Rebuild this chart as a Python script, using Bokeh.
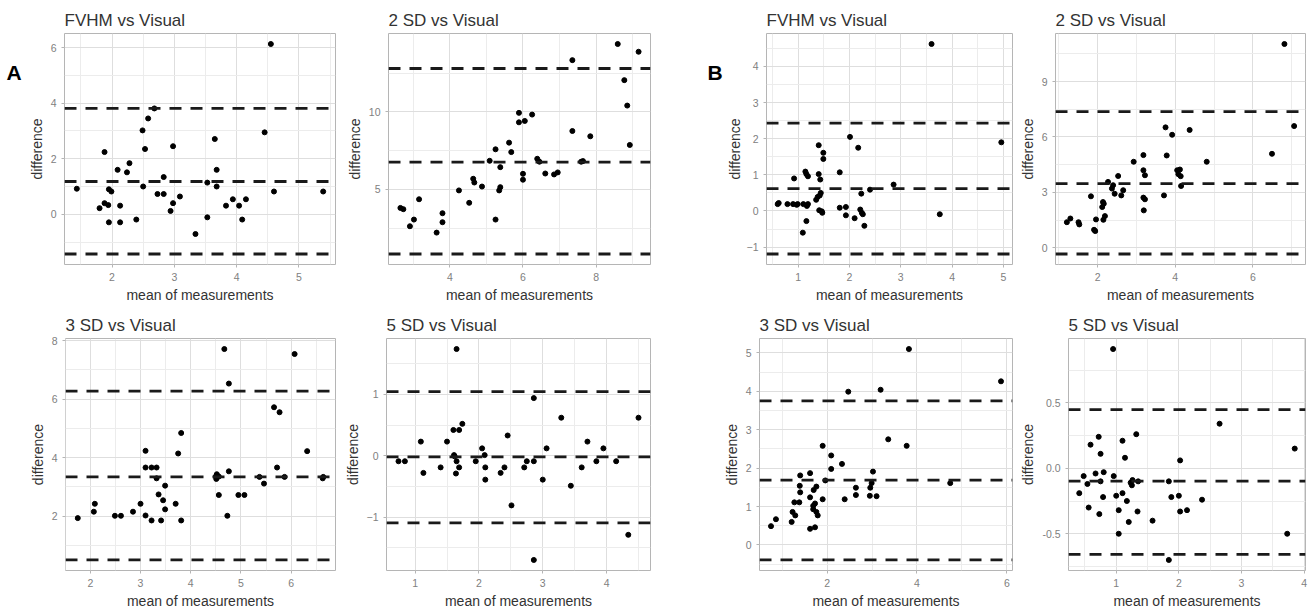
from bokeh.plotting import figure
from bokeh.layouts import column, row
from bokeh.models import Range1d, FixedTicker, Span, PrintfTickFormatter
from bokeh.core.properties import value
from bokeh.embed import file_html
from bokeh.resources import INLINE

FONT = "Liberation Sans"

# ---------------- data ----------------
titles = ["FVHM vs Visual", "2 SD vs Visual", "FVHM vs Visual", "2 SD vs Visual",
          "3 SD vs Visual", "5 SD vs Visual", "3 SD vs Visual", "5 SD vs Visual"]
x_label = "mean of measurements"
y_label = "difference"
group_labels = ["A", "B"]

A_FVHM_x = [1.435, 1.80, 1.88, 1.88, 1.94, 1.95, 1.95, 1.99, 2.09, 2.13, 2.13, 2.24, 2.28, 2.39, 2.49,
            2.50, 2.53, 2.58, 2.68, 2.73, 2.83, 2.83, 2.94, 2.98, 2.98, 3.09, 3.34, 3.53, 3.53, 3.65,
            3.68, 3.68, 3.83, 3.94, 4.04, 4.09, 4.15, 4.45, 4.55, 4.60, 5.39]
A_FVHM_y = [0.92, 0.22, 2.24, 0.40, 0.33, -0.29, 0.90, 0.82, 1.60, 0.31, -0.29, 1.51, 1.84, -0.19, 3.02,
            1.00, 2.35, 3.45, 3.81, 0.73, 1.34, 0.73, 0.12, 2.45, 0.40, 0.64, -0.71, 1.14, -0.11, 2.71,
            1.60, 1.00, 0.31, 0.54, 0.31, -0.19, 0.54, 2.95, 6.13, 0.82, 0.82]
A_FVHM_loa = [-1.43, 1.18, 3.81]

A_2SD_x = [2.65, 2.73, 2.91, 3.02, 3.16, 3.64, 3.80, 3.80, 4.25, 4.53, 4.64, 4.67, 4.88, 5.09, 5.25,
           5.25, 5.35, 5.38, 5.38, 5.62, 5.68, 5.89, 5.89, 6.00, 6.00, 6.05, 6.25, 6.39, 6.45, 6.61,
           6.85, 6.95, 7.35, 7.35, 7.59, 7.64, 7.84, 8.59, 8.77, 8.85, 8.92, 9.16]
A_2SD_y = [3.81, 3.73, 2.63, 3.06, 4.37, 2.22, 3.47, 2.89, 4.94, 4.14, 5.69, 5.45, 5.19, 6.85, 7.59,
           3.06, 4.94, 5.15, 6.44, 8.02, 7.41, 9.94, 9.33, 6.01, 5.63, 9.42, 9.83, 6.98, 6.79, 6.03,
           5.97, 6.10, 13.34, 8.77, 6.79, 6.83, 8.43, 14.38, 12.05, 10.41, 7.87, 13.88]
A_2SD_loa = [0.84, 6.77, 12.80]

B_FVHM_x = [0.60, 0.62, 0.79, 0.90, 0.92, 0.97, 0.99, 1.10, 1.09, 1.14, 1.16, 1.17, 1.19, 1.16, 1.19,
            1.35, 1.38, 1.40, 1.40, 1.41, 1.42, 1.43, 1.44, 1.46, 1.47, 1.49, 1.49, 1.81, 1.81, 1.93,
            1.93, 2.01, 2.10, 2.17, 2.21, 2.23, 2.24, 2.26, 2.29, 2.40, 2.86, 3.60, 3.76, 4.96]
B_FVHM_y = [0.19, 0.22, 0.19, 0.19, 0.90, 0.17, 0.19, 0.19, -0.60, 1.09, 1.02, 0.14, 0.19, -0.28, 0.96,
            0.31, 0.39, 1.82, 1.02, 0.02, 0.43, 0.87, 0.50, -0.01, -0.05, 1.61, 1.44, 1.07, 0.09, 0.11,
            -0.12, 2.05, -0.20, 1.75, 0.04, 0.48, -0.05, -0.09, -0.41, 0.59, 0.73, 4.62, -0.09, 1.90]
B_FVHM_loa = [-1.19, 0.62, 2.43]

B_2SD_x = [1.21, 1.30, 1.51, 1.53, 1.83, 1.91, 1.94, 1.96, 2.12, 2.14, 2.16, 2.15, 2.19, 2.27, 2.37,
           2.40, 2.44, 2.53, 2.61, 2.66, 2.93, 3.18, 3.18, 3.18, 3.22, 3.22, 3.19, 3.71, 3.75, 3.78,
           3.92, 4.05, 4.12, 4.08, 4.14, 4.15, 4.37, 4.81, 6.49, 6.81, 7.06]
B_2SD_y = [1.39, 1.59, 1.39, 1.27, 2.79, 0.98, 0.91, 1.54, 2.21, 2.48, 2.39, 1.52, 1.72, 3.57, 3.21,
           3.39, 2.93, 3.89, 2.84, 3.12, 4.66, 5.02, 4.20, 2.72, 3.93, 2.63, 2.03, 2.84, 6.52, 5.00,
           6.12, 4.20, 4.24, 3.99, 3.88, 3.35, 6.38, 4.66, 5.09, 11.03, 6.59]
B_2SD_loa = [-0.33, 3.48, 7.37]

A_3SD_x = [1.75, 2.07, 2.09, 2.49, 2.61, 2.85, 3.00, 3.10, 3.10, 3.10, 3.22, 3.22, 3.32, 3.32, 3.36,
           3.41, 3.45, 3.49, 3.49, 3.70, 3.75, 3.81, 3.81, 4.50, 4.51, 4.52, 4.56, 4.56, 4.67, 4.73,
           4.76, 4.76, 4.95, 5.07, 5.37, 5.46, 5.66, 5.77, 5.72, 5.87, 6.07, 6.32, 6.63, 6.64]
A_3SD_y = [1.93, 2.15, 2.42, 2.01, 2.01, 2.15, 2.42, 4.23, 3.66, 2.02, 3.66, 1.85, 3.66, 3.29, 2.74,
           1.85, 2.54, 3.04, 2.23, 2.42, 4.14, 4.84, 1.85, 3.35, 3.27, 3.43, 3.35, 2.72, 7.71, 2.01,
           6.53, 3.53, 2.72, 2.72, 3.34, 3.11, 5.72, 5.55, 3.66, 3.34, 7.54, 4.22, 3.29, 3.34]
A_3SD_loa = [0.50, 3.34, 6.27]

A_5SD_x = [0.74, 0.84, 1.09, 1.13, 1.40, 1.50, 1.60, 1.61, 1.62, 1.64, 1.65, 1.65, 1.69, 1.69, 1.74,
           1.95, 2.05, 2.09, 2.10, 2.10, 2.34, 2.40, 2.45, 2.51, 2.71, 2.75, 2.86, 2.86, 2.86, 3.00,
           3.06, 3.29, 3.44, 3.61, 3.70, 3.84, 3.95, 4.15, 4.34, 4.50]
A_5SD_y = [-0.09, -0.09, 0.23, -0.28, -0.19, 0.23, 0.42, 0.01, -0.01, -0.29, 1.74, -0.09, 0.42, -0.19, 0.52,
           -0.09, 0.12, 0.01, -0.19, -0.39, -0.28, -0.19, 0.33, -0.81, -0.19, -0.09, -0.09, 0.94, -1.70, -0.39,
           0.12, 0.62, -0.49, -0.19, 0.23, -0.09, 0.12, -0.09, -1.29, 0.62]
A_5SD_loa = [-1.096, -0.02, 1.047]

B_3SD_x = [0.75, 0.86, 1.21, 1.23, 1.27, 1.29, 1.38, 1.39, 1.40, 1.40, 1.62, 1.62, 1.62, 1.69, 1.69,
           1.70, 1.73, 1.73, 1.76, 1.76, 1.79, 1.90, 1.90, 1.96, 2.09, 2.09, 2.33, 2.39, 2.47, 2.64,
           2.64, 2.95, 2.96, 2.99, 3.02, 3.10, 3.19, 3.36, 3.77, 3.82, 4.74, 5.87]
B_3SD_y = [0.49, 0.67, 0.60, 0.86, 1.11, 0.77, 1.11, 1.54, 1.81, 1.37, 1.87, 1.24, 0.42, 1.02, 0.93,
           1.43, 0.46, 1.08, 1.52, 0.86, 0.77, 2.58, 1.19, 1.68, 2.33, 1.98, 2.11, 1.19, 3.99, 1.49,
           1.30, 1.28, 1.49, 1.61, 1.91, 1.27, 4.04, 2.75, 2.58, 5.10, 1.61, 4.26]
B_3SD_loa = [-0.39, 1.69, 3.75]

B_5SD_x = [0.41, 0.48, 0.54, 0.56, 0.59, 0.67, 0.72, 0.73, 0.75, 0.75, 0.79, 0.80, 0.95, 0.96, 1.00,
           1.04, 1.04, 1.10, 1.10, 1.14, 1.17, 1.20, 1.23, 1.25, 1.26, 1.32, 1.34, 1.35, 1.58, 1.84,
           1.84, 1.88, 2.00, 2.02, 2.02, 2.13, 2.37, 2.65, 3.73, 3.85]
B_5SD_y = [-0.19, -0.06, -0.12, -0.30, 0.18, -0.04, 0.24, -0.35, 0.11, -0.10, -0.22, -0.03, 0.91, -0.06, -0.21,
           -0.32, -0.50, 0.21, -0.19, 0.08, -0.25, -0.41, -0.11, -0.13, -0.09, 0.26, -0.33, -0.10, -0.40, -0.10,
           -0.70, -0.22, -0.21, 0.06, -0.33, -0.32, -0.24, 0.34, -0.50, 0.15]
B_5SD_loa = [-0.658, -0.098, 0.447]

# tick values (major, minor) per panel
P1_xt, P1_xm, P1_yt, P1_ym = [2, 3, 4, 5], [1.5, 2.5, 3.5, 4.5, 5.5], [0, 2, 4, 6], [-1, 1, 3, 5]
P2_xt, P2_xm, P2_yt, P2_ym = [4, 6, 8], [3, 5, 7, 9], [5, 10], [2.5, 7.5, 12.5]
P3_xt, P3_xm, P3_yt, P3_ym = [1, 2, 3, 4, 5], [0.5, 1.5, 2.5, 3.5, 4.5], [-1, 0, 1, 2, 3, 4], [-0.5, 0.5, 1.5, 2.5, 3.5, 4.5]
P4_xt, P4_xm, P4_yt, P4_ym = [2, 4, 6], [1, 3, 5, 7], [0, 3, 6, 9], [1.5, 4.5, 7.5, 10.5]
P5_xt, P5_xm, P5_yt, P5_ym = [2, 3, 4, 5, 6], [1.5, 2.5, 3.5, 4.5, 5.5, 6.5], [2, 4, 6, 8], [1, 3, 5, 7]
P6_xt, P6_xm, P6_yt, P6_ym = [1, 2, 3, 4], [0.5, 1.5, 2.5, 3.5, 4.5], [-1, 0, 1], [-1.5, -0.5, 0.5, 1.5]
P7_xt, P7_xm, P7_yt, P7_ym = [2, 4, 6], [1, 3, 5], [0, 1, 2, 3, 4, 5], [-0.5, 0.5, 1.5, 2.5, 3.5, 4.5]
P8_xt, P8_xm, P8_yt, P8_ym = [1, 2, 3, 4], [0.5, 1.5, 2.5, 3.5], [-0.5, 0.0, 0.5], [-0.75, -0.25, 0.25, 0.75]


def expand(lo, hi, f=0.05):
    d = (hi - lo) * f
    return lo - d, hi + d


def make_panel(title, xs, ys, loa, xt, xm, yt, ym, width, height, bl, br, bt, bb, yfmt=None, ylab_standoff=3):
    x0, x1 = expand(min(xs), max(xs))
    y0, y1 = expand(min(min(ys), min(loa)), max(max(ys), max(loa)))
    p = figure(width=width, height=height, title=title, output_backend="svg", toolbar_location=None,
               x_range=Range1d(x0, x1), y_range=Range1d(y0, y1),
               min_border_left=bl, min_border_right=br, min_border_top=bt, min_border_bottom=bb)
    p.title.text_font = FONT
    p.title.text_font_size = "17px"
    p.title.text_font_style = "normal"
    p.title.text_color = "#333333"
    p.title.align = "left"
    p.title.standoff = 7
    p.background_fill_color = "white"
    p.border_fill_color = "white"
    p.outline_line_color = "#b5b5b5"
    p.outline_line_width = 1
    p.xaxis.ticker = FixedTicker(ticks=xt, minor_ticks=xm)
    p.yaxis.ticker = FixedTicker(ticks=yt, minor_ticks=ym)
    if yfmt:
        p.yaxis.formatter = PrintfTickFormatter(format=yfmt)
    p.xaxis.axis_label = x_label
    p.yaxis.axis_label = y_label
    for ax in (p.xaxis, p.yaxis):
        ax.axis_line_color = None
        ax.major_tick_in = 0
        ax.major_tick_out = 3
        ax.major_tick_line_color = "#b5b5b5"
        ax.minor_tick_line_color = None
        ax.major_label_text_font = FONT
        ax.major_label_text_font_size = "10.5px"
        ax.major_label_text_color = "#808080"
        ax.major_label_standoff = 4
        ax.axis_label_text_font = FONT
        ax.axis_label_text_font_size = "14px"
        ax.axis_label_text_font_style = "normal"
        ax.axis_label_text_color = "#333333"
        ax.axis_label_standoff = 3
    p.yaxis.axis_label_standoff = ylab_standoff
    for g in (p.xgrid, p.ygrid):
        g.grid_line_color = "#dedede"
        g.grid_line_width = 1
        g.minor_grid_line_color = "#ececec"
        g.minor_grid_line_width = 1
    p.scatter(xs, ys, size=5, color="black", line_color="black")
    for v in loa:
        p.add_layout(Span(location=v, dimension="width", line_color="#1a1a1a",
                          line_width=2.8, line_dash="12 9"))
    return p


def make_tag(text, width, height, tx, ty):
    s = figure(width=width, height=height, output_backend="svg", toolbar_location=None,
               x_range=Range1d(0, width), y_range=Range1d(0, height),
               min_border_left=0, min_border_right=0, min_border_top=0, min_border_bottom=0)
    s.axis.visible = False
    s.xgrid.visible = False
    s.ygrid.visible = False
    s.outline_line_color = None
    s.background_fill_color = "white"
    s.border_fill_color = "white"
    s.text(x=[tx], y=[height - ty], text=[text], text_font=value(FONT), text_font_size="21px",
           text_font_style="bold", text_color="black", text_baseline="middle", text_align="left")
    return s


TOP_H, BOT_H = 305, 306

tagA = make_tag(group_labels[0], 24, TOP_H, 6, 52)
p1 = make_panel(titles[0], A_FVHM_x, A_FVHM_y, A_FVHM_loa, P1_xt, P1_xm, P1_yt, P1_ym, 316, TOP_H, 40, 5, 33, 40)
p2 = make_panel(titles[1], A_2SD_x, A_2SD_y, A_2SD_loa, P2_xt, P2_xm, P2_yt, P2_ym, 315, TOP_H, 48, 5, 33, 40)
tagB = make_tag(group_labels[1], 68, TOP_H, 52, 52)
p3 = make_panel(titles[2], B_FVHM_x, B_FVHM_y, B_FVHM_loa, P3_xt, P3_xm, P3_yt, P3_ym, 292, TOP_H, 30, 3, 33, 40,
                ylab_standoff=1)
p4 = make_panel(titles[3], B_2SD_x, B_2SD_y, B_2SD_loa, P4_xt, P4_xm, P4_yt, P4_ym, 295, TOP_H, 40, 5, 33, 40)
p5 = make_panel(titles[4], A_3SD_x, A_3SD_y, A_3SD_loa, P5_xt, P5_xm, P5_yt, P5_ym, 340, BOT_H, 65, 5, 33, 41)
p6 = make_panel(titles[5], A_5SD_x, A_5SD_y, A_5SD_loa, P6_xt, P6_xm, P6_yt, P6_ym, 315, BOT_H, 46, 5, 33, 41)
p7 = make_panel(titles[6], B_3SD_x, B_3SD_y, B_3SD_loa, P7_xt, P7_xm, P7_yt, P7_ym, 360, BOT_H, 104, 3, 33, 41)
p8 = make_panel(titles[7], B_5SD_x, B_5SD_y, B_5SD_loa, P8_xt, P8_xm, P8_yt, P8_ym, 295, BOT_H, 53, 5, 33, 41,
                yfmt="%.1f")

layout = column(row(tagA, p1, p2, tagB, p3, p4), row(p5, p6, p7, p8))
open("out.html", "w").write(file_html(layout, INLINE))
